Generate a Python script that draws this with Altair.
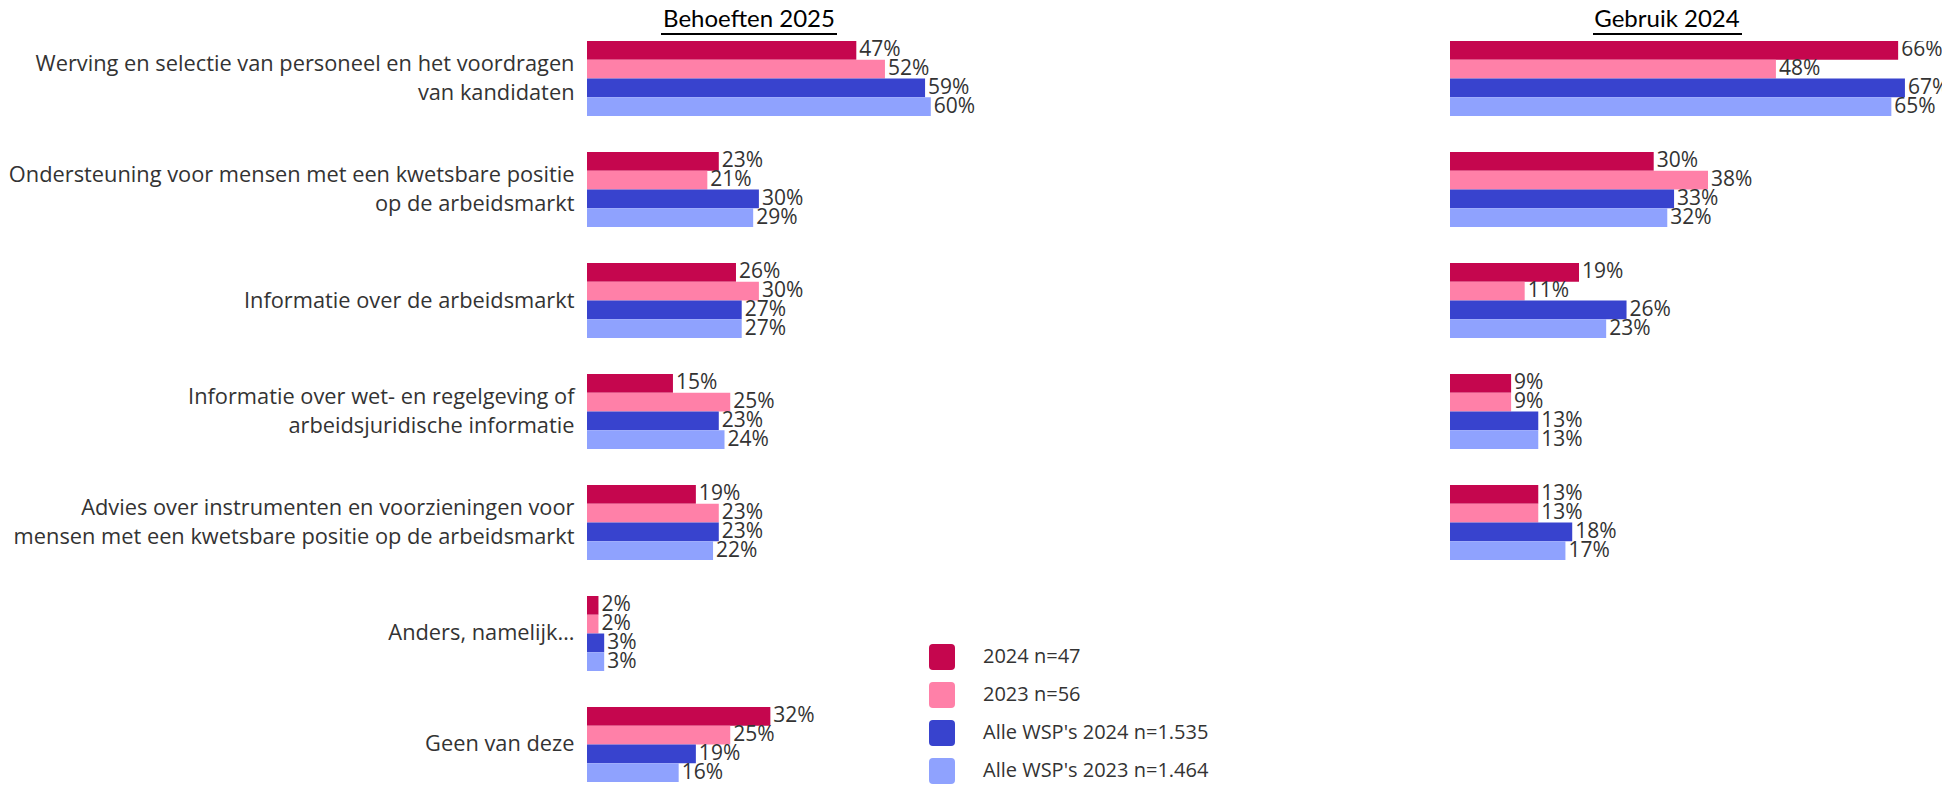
import altair as alt
import pandas as pd

categories = [
    "Werving en selectie van personeel en het voordragen|van kandidaten",
    "Ondersteuning voor mensen met een kwetsbare positie|op de arbeidsmarkt",
    "Informatie over de arbeidsmarkt",
    "Informatie over wet- en regelgeving of|arbeidsjuridische informatie",
    "Advies over instrumenten en voorzieningen voor|mensen met een kwetsbare positie op de arbeidsmarkt",
    "Anders, namelijk…",
    "Geen van deze",
]
series = ["2024 n=47", "2023 n=56", "Alle WSP's 2024 n=1.535", "Alle WSP's 2023 n=1.464"]
colors = ["#C5064E", "#FF80A8", "#3843CE", "#8FA2FE"]

# Behoeften 2025 (all 7 categories)
behoeften_2024 = [47, 23, 26, 15, 19, 2, 32]
behoeften_2023 = [52, 21, 30, 25, 23, 2, 25]
behoeften_wsp_2024 = [59, 30, 27, 23, 23, 3, 19]
behoeften_wsp_2023 = [60, 29, 27, 24, 22, 3, 16]

# Gebruik 2024 (first 5 categories)
gebruik_2024 = [66, 30, 19, 9, 13]
gebruik_2023 = [48, 38, 11, 9, 13]
gebruik_wsp_2024 = [67, 33, 26, 13, 18]
gebruik_wsp_2023 = [65, 32, 23, 13, 17]

titles = ["Behoeften 2025", "Gebruik 2024"]


def to_long(cols, cats):
    rows = []
    for s, vals in zip(series, cols):
        for c, v in zip(cats, vals):
            rows.append({"cat": c, "series": s, "value": v, "label": f"{v}%"})
    return pd.DataFrame(rows)


left_df = to_long([behoeften_2024, behoeften_2023, behoeften_wsp_2024, behoeften_wsp_2023], categories)
right_df = to_long([gebruik_2024, gebruik_2023, gebruik_wsp_2024, gebruik_wsp_2023], categories[:5])

TXT = "#333333"
H = 741
rounded = "M-0.7,-1H0.7Q1,-1 1,-0.7V0.7Q1,1 0.7,1H-0.7Q-1,1 -1,0.7V-0.7Q-1,-1 -0.7,-1Z"


def y_enc(axis):
    return alt.Y(
        "cat:N",
        sort=categories,
        scale=alt.Scale(domain=categories, paddingInner=0.3243, paddingOuter=0),
        axis=axis,
        title=None,
    )


y_off = alt.YOffset(
    "series:N", sort=series, scale=alt.Scale(domain=series, paddingInner=0, paddingOuter=0)
)


def panel(df, xmax, width, axis, legend, title, tx, ux1, ux2, clip):
    xs = alt.X("value:Q", scale=alt.Scale(domain=[0, xmax], nice=False, zero=True), axis=None)
    if legend is None:
        col = alt.Color("series:N", scale=alt.Scale(domain=series, range=colors), legend=None)
    else:
        col = alt.Color("series:N", scale=alt.Scale(domain=series, range=colors), legend=legend)
    bars = alt.Chart(df).mark_bar(opacity=1).encode(
        x=xs, y=y_enc(axis), yOffset=y_off, color=col
    )
    labels = alt.Chart(df).mark_text(
        align="left", baseline="middle", dx=3, font="Open Sans", fontSize=21, color=TXT, clip=clip
    ).encode(x=xs, y=y_enc(axis), yOffset=y_off, text="label:N")
    ttl = alt.Chart(pd.DataFrame({"t": [title]})).mark_text(
        font="Lato", fontSize=24, color="black", align="center", baseline="middle"
    ).encode(text="t:N", x=alt.value(tx), y=alt.value(-21))
    rule = alt.Chart(pd.DataFrame({"t": [title]})).mark_rule(color="black", strokeWidth=2).encode(
        x=alt.value(ux1), x2=alt.value(ux2), y=alt.value(-7)
    )
    return alt.layer(bars, labels, ttl, rule).properties(width=width, height=H)


left_axis = alt.Axis(
    labelExpr="split(datum.label, '|')",
    labelFont="Open Sans",
    labelFontSize=21.8,
    labelColor=TXT,
    labelLimit=1000,
    labelPadding=13,
    labelLineHeight=29,
    labelOffset={"condition": {"test": "indexof(datum.value, '|') >= 0", "value": -14.5}, "value": 0},
    ticks=False,
    domain=False,
    grid=False,
    minExtent=579,
    maxExtent=579,
)

legend = alt.Legend(
    title=None,
    orient="none",
    legendX=342,
    legendY=603,
    direction="vertical",
    symbolType=rounded,
    symbolSize=676,
    symbolStrokeWidth=0,
    symbolOpacity=1,
    labelFont="Open Sans",
    labelFontSize=20,
    labelColor=TXT,
    labelOffset=28,
    labelLimit=500,
    rowPadding=12,
    padding=0,
)

left = panel(left_df, 863 / 5.73, 863, left_axis, legend, titles[0], 162, 74, 250, False)
right = panel(right_df, 492 / 6.79, 492, None, None, titles[1], 217, 143, 292, True)

chart = (
    alt.hconcat(left, right, spacing=0)
    .resolve_scale(x="independent", y="independent", color="independent")
    .configure_view(stroke=None)
    .properties(padding=0)
)

chart.save("out.html", embed_options={"renderer": "svg", "actions": False})
